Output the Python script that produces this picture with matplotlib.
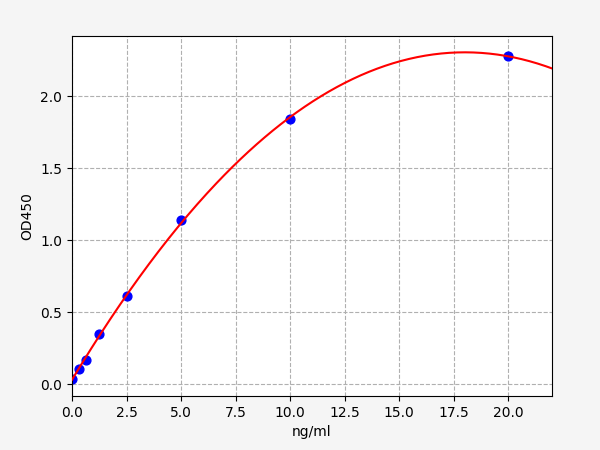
import numpy as np
import matplotlib
matplotlib.use("Agg")
import matplotlib.pyplot as plt

# standard curve data
conc = [0, 0.3125, 0.625, 1.25, 2.5, 5, 10, 20]
od = [0.035, 0.104, 0.167, 0.347, 0.611, 1.139, 1.840, 2.278]

# polynomial fit of the standards
coef = np.polyfit(conc, od, 2)
xs = np.linspace(0, 22, 300)
ys = np.polyval(coef, xs)

fig, ax = plt.subplots(figsize=(6, 4.5), dpi=100)
fig.subplots_adjust(left=0.12, right=0.92, top=0.92, bottom=0.12)
fig.patch.set_facecolor("#f5f5f5")
ax.scatter(conc, od, color="blue", s=40, zorder=2)
ax.plot(xs, ys, color="red", zorder=3)
ax.grid(True, linestyle="--", color="#b0b0b0")
ax.set_xlim(0, 22)
ax.set_ylim(-0.083, 2.417)
ax.set_xlabel("ng/ml")
ax.set_ylabel("OD450")
fig.savefig("out.png", facecolor=fig.get_facecolor())
